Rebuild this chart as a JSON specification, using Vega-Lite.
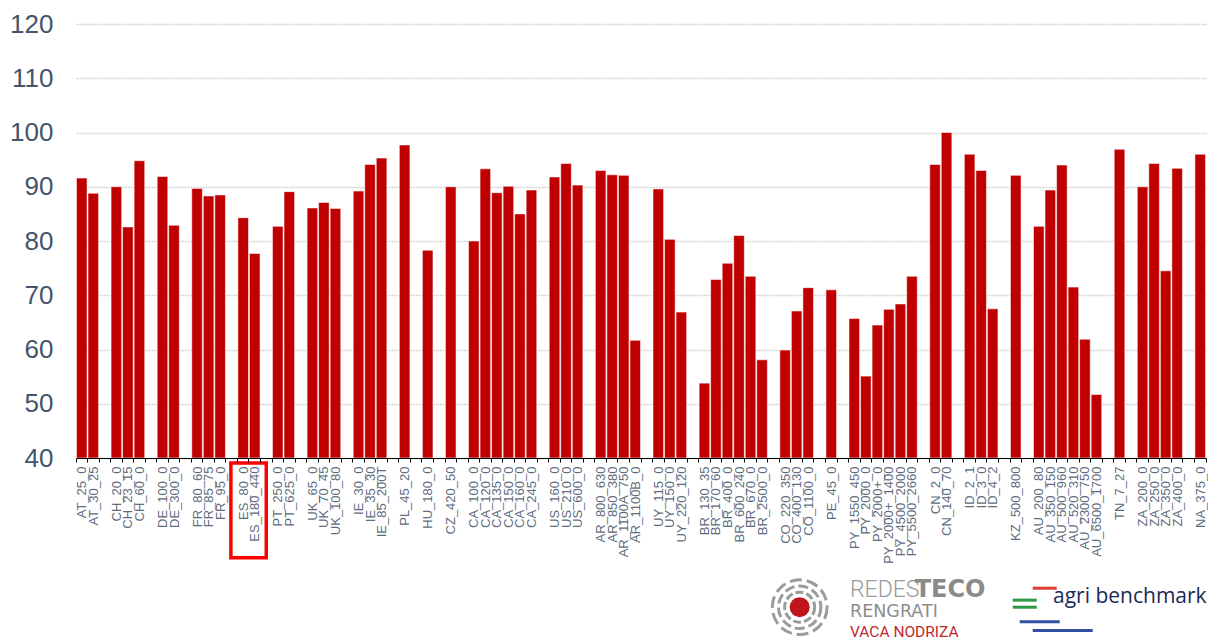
{
  "$schema": "https://vega.github.io/schema/vega-lite/v6.json",
  "width": 1130,
  "height": 434,
  "autosize": "none",
  "padding": {"left": 76, "top": 24, "right": 2, "bottom": 181},
  "background": "#ffffff",
  "config": {"view": {"stroke": null}, "font": "Liberation Sans"},
  "layer": [
    {
      "data": {"values": [
        {"c": "AT_25_0", "v": 91.6}, {"c": "AT_30_25", "v": 88.8},
        {"c": "CH_20_0", "v": 90.0}, {"c": "CH_23_15", "v": 82.6}, {"c": "CH_60_0", "v": 94.8},
        {"c": "DE_100_0", "v": 91.9}, {"c": "DE_300_0", "v": 82.9},
        {"c": "FR_80_60", "v": 89.7}, {"c": "FR_85_75", "v": 88.3}, {"c": "FR_95_0", "v": 88.5},
        {"c": "ES_80_0", "v": 84.3}, {"c": "ES_180_440", "v": 77.7},
        {"c": "PT_250_0", "v": 82.7}, {"c": "PT_625_0", "v": 89.1},
        {"c": "UK_65_0", "v": 86.1}, {"c": "UK_70_45", "v": 87.1}, {"c": "UK_100_80", "v": 86.0},
        {"c": "IE_30_0", "v": 89.2}, {"c": "IE_35_30", "v": 94.1}, {"c": "IE_85_200T", "v": 95.3},
        {"c": "PL_45_20", "v": 97.7},
        {"c": "HU_180_0", "v": 78.3},
        {"c": "CZ_420_50", "v": 90.0},
        {"c": "CA_100_0", "v": 80.0}, {"c": "CA_120_0", "v": 93.3}, {"c": "CA_135_0", "v": 88.9}, {"c": "CA_150_0", "v": 90.1}, {"c": "CA_160_0", "v": 85.0}, {"c": "CA_245_0", "v": 89.4},
        {"c": "US_160_0", "v": 91.8}, {"c": "US_210_0", "v": 94.3}, {"c": "US_600_0", "v": 90.3},
        {"c": "AR_800_630", "v": 93.0}, {"c": "AR_850_380", "v": 92.2}, {"c": "AR_1100A_750", "v": 92.1}, {"c": "AR_1100B_0", "v": 61.7},
        {"c": "UY_115_0", "v": 89.6}, {"c": "UY_150_0", "v": 80.3}, {"c": "UY_220_120", "v": 66.9},
        {"c": "BR_130_35", "v": 53.8}, {"c": "BR_170_60", "v": 72.9}, {"c": "BR_400_0", "v": 75.9}, {"c": "BR_600_240", "v": 81.0}, {"c": "BR_670_0", "v": 73.5}, {"c": "BR_2500_0", "v": 58.1},
        {"c": "CO_220_350", "v": 59.9}, {"c": "CO_400_130", "v": 67.1}, {"c": "CO_1100_0", "v": 71.4},
        {"c": "PE_45_0", "v": 71.0},
        {"c": "PY_1550_450", "v": 65.7}, {"c": "PY_2000_0", "v": 55.1}, {"c": "PY_2000+_0", "v": 64.5}, {"c": "PY_2000+_1400", "v": 67.4}, {"c": "PY_4500_2000", "v": 68.4}, {"c": "PY_5500_2660", "v": 73.5},
        {"c": "CN_2_0", "v": 94.1}, {"c": "CN_140_70", "v": 100.0},
        {"c": "ID_2_1", "v": 96.0}, {"c": "ID_3_0", "v": 93.0}, {"c": "ID_4_2", "v": 67.5},
        {"c": "KZ_500_800", "v": 92.1},
        {"c": "AU_200_80", "v": 82.7}, {"c": "AU_350_150", "v": 89.4}, {"c": "AU_500_960", "v": 94.0}, {"c": "AU_520_310", "v": 71.5}, {"c": "AU_2300_750", "v": 61.9}, {"c": "AU_6500_1700", "v": 51.7},
        {"c": "TN_7_27", "v": 96.9},
        {"c": "ZA_200_0", "v": 90.0}, {"c": "ZA_250_0", "v": 94.3}, {"c": "ZA_350_0", "v": 74.5}, {"c": "ZA_400_0", "v": 93.4},
        {"c": "NA_375_0", "v": 96.0}
      ]},
      "mark": {"type": "bar", "color": "#C00000", "stroke": "#ffffff", "strokeWidth": 1, "strokeOpacity": 0.55, "clip": true},
      "encoding": {
        "x": {
          "field": "c", "type": "nominal", "sort": null, "title": null,
          "scale": {
            "domain": ["AT_25_0", "AT_30_25", "~1", "CH_20_0", "CH_23_15", "CH_60_0", "~2", "DE_100_0", "DE_300_0", "~3", "FR_80_60", "FR_85_75", "FR_95_0", "~4", "ES_80_0", "ES_180_440", "~5", "PT_250_0", "PT_625_0", "~6", "UK_65_0", "UK_70_45", "UK_100_80", "~7", "IE_30_0", "IE_35_30", "IE_85_200T", "~8", "PL_45_20", "~9", "HU_180_0", "~10", "CZ_420_50", "~11", "CA_100_0", "CA_120_0", "CA_135_0", "CA_150_0", "CA_160_0", "CA_245_0", "~12", "US_160_0", "US_210_0", "US_600_0", "~13", "AR_800_630", "AR_850_380", "AR_1100A_750", "AR_1100B_0", "~14", "UY_115_0", "UY_150_0", "UY_220_120", "~15", "BR_130_35", "BR_170_60", "BR_400_0", "BR_600_240", "BR_670_0", "BR_2500_0", "~16", "CO_220_350", "CO_400_130", "CO_1100_0", "~17", "PE_45_0", "~18", "PY_1550_450", "PY_2000_0", "PY_2000+_0", "PY_2000+_1400", "PY_4500_2000", "PY_5500_2660", "~19", "CN_2_0", "CN_140_70", "~20", "ID_2_1", "ID_3_0", "ID_4_2", "~21", "KZ_500_800", "~22", "AU_200_80", "AU_350_150", "AU_500_960", "AU_520_310", "AU_2300_750", "AU_6500_1700", "~23", "TN_7_27", "~24", "ZA_200_0", "ZA_250_0", "ZA_350_0", "ZA_400_0", "~25", "NA_375_0"],
            "paddingInner": 0.08, "paddingOuter": 0.04
          },
          "axis": {
            "labelAngle": -90, "labelFontSize": 13, "labelColor": "#5E6C80", "labelFont": "Liberation Sans",
            "labelOverlap": false, "labelLimit": 200, "labelPadding": 4,
            "labelExpr": "substring(datum.value,0,1) == '~' ? '' : datum.value",
            "domainColor": "#000000", "domainWidth": 1.2, "tickColor": "#000000", "tickSize": 4, "tickBand": "extent",
            "grid": false, "zindex": 1
          }
        },
        "y": {
          "field": "v", "type": "quantitative", "title": null,
          "scale": {"domain": [40, 120], "zero": false, "nice": false},
          "axis": {
            "values": [40, 50, 60, 70, 80, 90, 100, 110, 120],
            "labelFontSize": 26, "labelColor": "#44546A", "labelFont": "Liberation Sans", "labelPadding": 23,
            "domain": false, "ticks": false,
            "grid": true, "gridColor": "#d2d2d2", "gridDash": [2, 1], "gridWidth": 1.5
          }
        },
        "y2": {"datum": 40}
      }
    },
    {
      "data": {"values": [{}]},
      "mark": {"type": "rect", "filled": false, "stroke": "#FF0000", "strokeWidth": 3.5, "fill": null, "clip": false, "xOffset": -7, "x2Offset": 0},
      "encoding": {
        "x": {"datum": "ES_80_0", "bandPosition": 0},
        "x2": {"datum": "~5"},
        "y": {"datum": 39.1},
        "y2": {"datum": 21.6}
      }
    },
    {
      "data": {"values": [{}]},
      "mark": {"type": "point", "shape": "circle", "filled": true, "color": "#C0151B", "opacity": 1, "size": 400, "xOffset": 3, "clip": false},
      "encoding": {"x": {"datum": "CO_400_130"}, "y": {"datum": 12.5}}
    },
    {
      "data": {"values": [{}]},
      "mark": {"type": "point", "shape": "circle", "filled": false, "stroke": "#9b9b9b", "opacity": 1, "strokeWidth": 3, "strokeDash": [8, 3], "size": 900, "xOffset": 3, "clip": false},
      "encoding": {"x": {"datum": "CO_400_130"}, "y": {"datum": 12.5}}
    },
    {
      "data": {"values": [{}]},
      "mark": {"type": "point", "shape": "circle", "filled": false, "stroke": "#9b9b9b", "opacity": 1, "strokeWidth": 3, "strokeDash": [10, 4], "size": 1800, "xOffset": 3, "clip": false},
      "encoding": {"x": {"datum": "CO_400_130"}, "y": {"datum": 12.5}}
    },
    {
      "data": {"values": [{}]},
      "mark": {"type": "point", "shape": "circle", "filled": false, "stroke": "#9b9b9b", "opacity": 1, "strokeWidth": 3, "strokeDash": [12, 5], "size": 3000, "xOffset": 3, "clip": false},
      "encoding": {"x": {"datum": "CO_400_130"}, "y": {"datum": 12.5}}
    },
    {
      "data": {"values": [{}]},
      "mark": {"type": "text", "text": "REDES", "align": "left", "baseline": "alphabetic", "font": "Roboto", "fontWeight": 300, "fontSize": 23, "color": "#9a9a9a", "dx": 1},
      "encoding": {"x": {"datum": "PY_1550_450", "bandPosition": 0}, "y": {"datum": 14.4}}
    },
    {
      "data": {"values": [{}]},
      "mark": {"type": "text", "text": "TECO", "align": "left", "baseline": "alphabetic", "font": "DejaVu Sans", "fontWeight": "bold", "fontSize": 24, "color": "#8a8a8a", "dx": 8},
      "encoding": {"x": {"datum": "PY_5500_2660", "bandPosition": 0}, "y": {"datum": 14.4}}
    },
    {
      "data": {"values": [{}]},
      "mark": {"type": "text", "text": "RENGRATI", "align": "left", "baseline": "alphabetic", "font": "DejaVu Sans", "fontSize": 17.5, "color": "#8c8c8c", "dx": 1},
      "encoding": {"x": {"datum": "PY_1550_450", "bandPosition": 0}, "y": {"datum": 10.7}}
    },
    {
      "data": {"values": [{}]},
      "mark": {"type": "text", "text": "VACA NODRIZA", "align": "left", "baseline": "alphabetic", "font": "Roboto", "fontSize": 15.5, "color": "#C0282D", "dx": 1},
      "encoding": {"x": {"datum": "PY_1550_450", "bandPosition": 0}, "y": {"datum": 7.0}}
    },
    {
      "data": {"values": [{}]},
      "mark": {"type": "text", "text": "agri benchmark", "align": "left", "baseline": "alphabetic", "font": "Open Sans", "fontSize": 21, "color": "#1B2A55", "dx": 8},
      "encoding": {"x": {"datum": "AU_350_150", "bandPosition": 0}, "y": {"datum": 13.3}}
    },
    {
      "data": {"values": [{}]},
      "mark": {"type": "rule", "color": "#E03C31", "strokeWidth": 3, "xOffset": 17, "x2Offset": 41, "clip": false},
      "encoding": {"x": {"datum": "KZ_500_800"}, "x2": {"datum": "KZ_500_800"}, "y": {"datum": 16.0}}
    },
    {
      "data": {"values": [{}]},
      "mark": {"type": "rule", "color": "#2E9A48", "strokeWidth": 3, "xOffset": -3, "x2Offset": 21, "clip": false},
      "encoding": {"x": {"datum": "KZ_500_800"}, "x2": {"datum": "KZ_500_800"}, "y": {"datum": 13.8}}
    },
    {
      "data": {"values": [{}]},
      "mark": {"type": "rule", "color": "#2E9A48", "strokeWidth": 3, "xOffset": -3, "x2Offset": 21, "clip": false},
      "encoding": {"x": {"datum": "KZ_500_800"}, "x2": {"datum": "KZ_500_800"}, "y": {"datum": 12.5}}
    },
    {
      "data": {"values": [{}]},
      "mark": {"type": "rule", "color": "#2F4FA0", "strokeWidth": 3, "xOffset": 4, "x2Offset": 44, "clip": false},
      "encoding": {"x": {"datum": "KZ_500_800"}, "x2": {"datum": "KZ_500_800"}, "y": {"datum": 9.8}}
    },
    {
      "data": {"values": [{}]},
      "mark": {"type": "rule", "color": "#2F4FA0", "strokeWidth": 3, "xOffset": 17, "x2Offset": 77, "clip": false},
      "encoding": {"x": {"datum": "KZ_500_800"}, "x2": {"datum": "KZ_500_800"}, "y": {"datum": 8.2}}
    }
  ]
}
